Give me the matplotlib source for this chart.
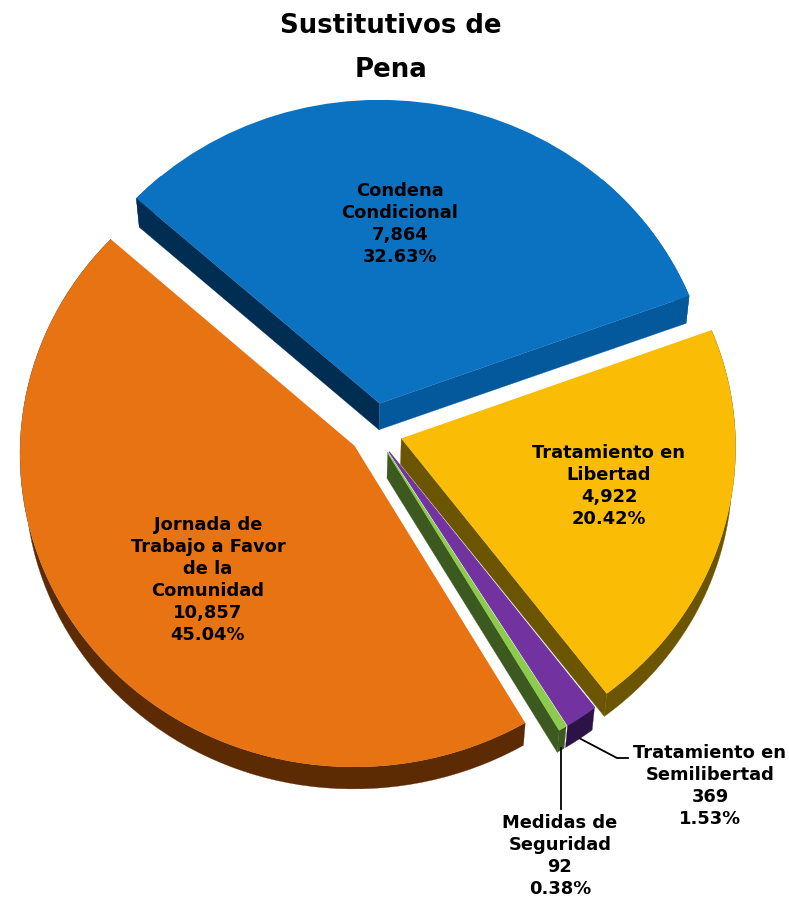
import numpy as np
import matplotlib
matplotlib.use("Agg")
import matplotlib.pyplot as plt
from matplotlib.patches import Polygon
from matplotlib.transforms import Transform

categories = ["Condena\nCondicional", "Tratamiento en\nLibertad", "Tratamiento en\nSemilibertad",
              "Medidas de\nSeguridad", "Jornada de\nTrabajo a Favor\nde la\nComunidad"]
values = [7864, 4922, 369, 92, 10857]
percents = ["32.63%", "20.42%", "1.53%", "0.38%", "45.04%"]
title = "Sustitutivos de\nPena"

top_colors = ["#0B72C1", "#FBBC05", "#7232A0", "#8CCB4E", "#E77312"]
rim_colors = ["#04599D", "#6B5500", "#2D1248", "#3C5A20", "#5C2A03"]
lead_colors = ["#002D52", None, None, None, None]
trail_colors = ["#04599D", "#6B5500", None, "#3C5A20", None]
explode = [0.09, 0.085, 0.08, 0.08, 0.075]

FONT = "DejaVu Sans"
CX, CY, A, B, K, DEPTH = 374.0, 431.0, 334.0, 312.5, 0.025, 26.0


class Plane(Transform):
    input_dims = output_dims = 2
    is_separable = False
    has_inverse = False

    def __init__(self, lower=False):
        super().__init__()
        self.lower = lower

    def transform_non_affine(self, xy):
        xy = np.asarray(xy, float)
        x, y = xy[:, 0], xy[:, 1]
        w = 1 + K * y
        sx = CX + A * x / w
        sy = CY - B * y / w
        if self.lower:
            sx = sx - np.where(sx > 300, 0.008, 0.018) * (sx - 300)
            sy = sy + DEPTH * (1 + 0.15 * y)
        return np.column_stack([sx, sy])


upper, lower = Plane(False), Plane(True)

fig = plt.figure(figsize=(7.89, 8.98), dpi=100)
ax = fig.add_axes([0, 0, 1, 1])
wedges, _ = ax.pie(values, explode=explode, startangle=137.9, counterclock=False,
                   colors=top_colors, radius=1, center=(0, 0),
                   wedgeprops=dict(linewidth=0))
ax.set_aspect("auto")
ax.set_xlim(0, 789)
ax.set_ylim(898, 0)
ax.axis("off")


def side(points, color, z):
    if color is None or len(points) < 2:
        return
    u = upper.transform(points)
    l = lower.transform(points)
    ax.add_patch(Polygon(np.vstack([u, l[::-1]]), closed=True, facecolor=color,
                         edgecolor=color, linewidth=0.2, zorder=z))


draw_order = [0, 4, 2, 3, 1]
for n, i in enumerate(draw_order):
    w = wedges[i]
    c = np.array(w.center)
    z = 2 + n * 2
    t = np.radians(np.linspace(w.theta1, w.theta2, 80))
    rim = c + w.r * np.column_stack([np.cos(t), np.sin(t)])
    # the rim is only visible on the near half of each slice
    side(rim[np.sin(t) < 0.75], rim_colors[i], z)
    side(np.vstack([c, rim[-1]]), lead_colors[i], z)
    side(np.vstack([c, rim[0]]), trail_colors[i], z)
    w.set_transform(upper + ax.transData)
    w.set_zorder(z + 1)
    if i in (2, 3):
        # close the hairline between the two thin neighbouring slices
        w.set_edgecolor(top_colors[i])
        w.set_linewidth(0.8)

txt = dict(ha="center", va="center", family=FONT, weight="bold", color="black",
           fontsize=12.9, linespacing=1.30, zorder=30)
label_pos = [(400, 224), (609, 486), (710, 786), (560, 856), (208, 580)]
for name, v, p, (x, y) in zip(categories, values, percents, label_pos):
    ax.text(x, y, f"{name}\n{v:,}\n{p}", **txt)

ax.text(391, 48, title, ha="center", va="center", family=FONT, weight="bold",
        fontsize=18.75, linespacing=1.92, color="black", zorder=30)

ax.plot([561, 561], [748, 809], color="black", lw=1.3, zorder=25)
ax.plot([579, 617, 628], [738, 758, 758], color="black", lw=1.3, zorder=1)

fig.savefig("out.png", dpi=100)
